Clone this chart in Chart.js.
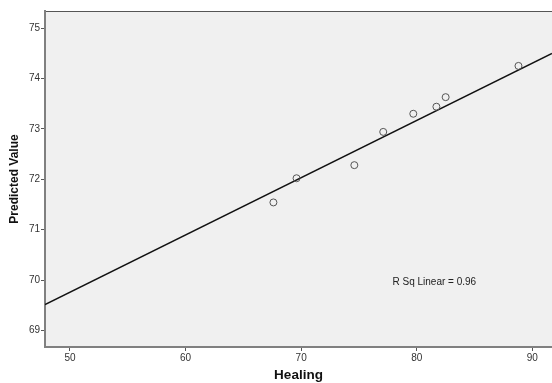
<!DOCTYPE html>
<html>
<head>
<meta charset="utf-8">
<script src="https://cdn.jsdelivr.net/npm/chart.js@4"></script>
<style>
  body { margin: 0; background: #fff; }
  #wrap { width: 552px; height: 383px; }
</style>
</head>
<body>
<div id="wrap"><canvas id="scatterChart" width="552" height="383"></canvas></div>
<script>
// dati
const healing = [67.6, 69.6, 74.6, 77.1, 79.7, 81.7, 82.5, 88.8];
const predicted = [71.54, 72.02, 72.28, 72.94, 73.30, 73.44, 73.63, 74.25];

// retta di regressione (estremi)
const fitX = [47.84, 91.7];
const fitY = [69.51, 74.50];

const xTicks = [50, 60, 70, 80, 90];
const yTicks = [69, 70, 71, 72, 73, 74, 75];
const rSqLabel = 'R Sq Linear = 0.96';
const rSqPos = [77.9, 69.96];

const fontFamily = '"Liberation Sans", Arial, sans-serif';

// sfondo grigio e cornice dell'area del grafico
const plotFrame = {
    id: 'plotFrame',
    beforeDraw(chart) {
        const { ctx, chartArea: a } = chart;
        ctx.save();
        ctx.fillStyle = '#f0f0f0';
        ctx.fillRect(a.left, a.top, a.right - a.left, a.bottom - a.top);
        ctx.strokeStyle = '#555';
        ctx.lineWidth = 1;
        ctx.beginPath();
        ctx.moveTo(a.left, a.top + 0.5);
        ctx.lineTo(a.right, a.top + 0.5);
        ctx.stroke();
        ctx.restore();
    },
    afterDatasetsDraw(chart) {
        const { ctx, scales } = chart;
        ctx.save();
        ctx.fillStyle = '#222';
        ctx.font = '10px ' + fontFamily;
        ctx.textBaseline = 'middle';
        ctx.fillText(rSqLabel, scales.x.getPixelForValue(rSqPos[0]), scales.y.getPixelForValue(rSqPos[1]));
        ctx.restore();
    }
};

new Chart(document.getElementById('scatterChart').getContext('2d'), {
    type: 'scatter',
    data: {
        datasets: [{
            label: 'Predicted Value',
            data: healing.map((h, i) => ({ x: h, y: predicted[i] })),
            pointStyle: 'circle',
            pointRadius: 3.5,
            backgroundColor: 'rgba(0,0,0,0)',
            borderColor: '#555',
            borderWidth: 1,
            order: 1
        }, {
            label: 'Fit',
            data: fitX.map((x, i) => ({ x: x, y: fitY[i] })),
            showLine: true,
            pointRadius: 0,
            borderColor: '#111',
            borderWidth: 1.5,
            order: 2
        }]
    },
    options: {
        responsive: false,
        animation: false,
        layout: { autoPadding: false, padding: { top: 11, right: 0, left: 0, bottom: 0 } },
        plugins: { legend: { display: false }, tooltip: { enabled: false } },
        scales: {
            x: {
                type: 'linear',
                min: 47.84,
                max: 91.7,
                afterBuildTicks: s => { s.ticks = xTicks.map(v => ({ value: v })); },
                afterFit: s => { s.height = 36; s.paddingRight = 0; s.paddingLeft = 0; },
                grid: { drawOnChartArea: false, drawTicks: true, tickLength: 4, tickColor: '#555', tickWidth: 1 },
                border: { display: true, color: '#808080', width: 2 },
                ticks: { color: '#333', padding: 1, font: { family: fontFamily, size: 10 } },
                title: { display: true, text: 'Healing', color: '#111', padding: { top: -4, bottom: 0 }, font: { family: fontFamily, size: 13.5, weight: 'bold' } }
            },
            y: {
                type: 'linear',
                min: 68.67,
                max: 75.34,
                afterBuildTicks: s => { s.ticks = yTicks.map(v => ({ value: v })); },
                afterFit: s => { s.width = 45; s.paddingTop = 0; s.paddingBottom = 0; },
                grid: { drawOnChartArea: false, drawTicks: true, tickLength: 4, tickColor: '#555', tickWidth: 1 },
                border: { display: true, color: '#808080', width: 2 },
                ticks: { color: '#333', padding: 1, font: { family: fontFamily, size: 10 } },
                title: { display: true, text: 'Predicted Value', color: '#111', padding: { top: 7, bottom: 0 }, font: { family: fontFamily, size: 12, weight: 'bold' } }
            }
        }
    },
    plugins: [plotFrame]
});
</script>
</body>
</html>
